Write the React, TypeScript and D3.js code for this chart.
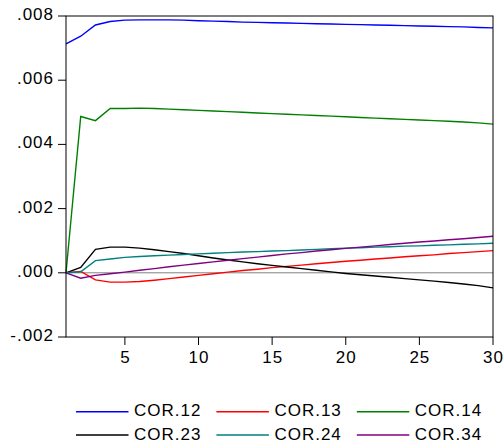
import React from 'react';
import * as d3 from 'd3';

// horizon 1..30, values in thousandths
const steps = d3.range(1, 31);
const cor12 = [7.13, 7.37, 7.72, 7.83, 7.87, 7.88, 7.88, 7.88, 7.87, 7.85, 7.84, 7.83, 7.81, 7.80, 7.79, 7.78, 7.77, 7.76, 7.75, 7.74, 7.73, 7.72, 7.71, 7.70, 7.69, 7.68, 7.67, 7.66, 7.64, 7.63];
const cor13 = [0, 0.04, -0.22, -0.29, -0.29, -0.27, -0.23, -0.18, -0.13, -0.08, -0.03, 0.02, 0.07, 0.11, 0.16, 0.20, 0.24, 0.28, 0.32, 0.36, 0.39, 0.43, 0.46, 0.50, 0.53, 0.56, 0.60, 0.63, 0.66, 0.69];
const cor14 = [0, 4.87, 4.74, 5.12, 5.12, 5.13, 5.12, 5.10, 5.08, 5.06, 5.04, 5.02, 5.00, 4.98, 4.96, 4.94, 4.92, 4.90, 4.88, 4.86, 4.84, 4.82, 4.80, 4.78, 4.76, 4.74, 4.72, 4.70, 4.67, 4.63];
const cor23 = [0, 0.17, 0.73, 0.80, 0.80, 0.77, 0.72, 0.66, 0.60, 0.53, 0.46, 0.40, 0.34, 0.28, 0.23, 0.18, 0.13, 0.08, 0.03, -0.02, -0.06, -0.10, -0.14, -0.18, -0.22, -0.26, -0.30, -0.35, -0.40, -0.47];
const cor24 = [0, 0.03, 0.38, 0.43, 0.48, 0.51, 0.53, 0.55, 0.57, 0.59, 0.61, 0.63, 0.65, 0.66, 0.68, 0.69, 0.71, 0.73, 0.75, 0.77, 0.78, 0.80, 0.81, 0.83, 0.84, 0.86, 0.87, 0.89, 0.90, 0.92];
const cor34 = [0, -0.17, -0.08, -0.03, 0.02, 0.08, 0.13, 0.19, 0.24, 0.29, 0.34, 0.39, 0.44, 0.49, 0.54, 0.59, 0.63, 0.68, 0.72, 0.76, 0.80, 0.84, 0.88, 0.92, 0.96, 0.99, 1.03, 1.06, 1.10, 1.14];

const seriesNames = ['COR.12', 'COR.13', 'COR.14', 'COR.23', 'COR.24', 'COR.34'];
const seriesColors = ['#0000ff', '#ff0000', '#008000', '#000000', '#008080', '#800080'];
const seriesData = [cor12, cor13, cor14, cor23, cor24, cor34];

const yTicks = [-0.002, 0, 0.002, 0.004, 0.006, 0.008];
const xTicks = [5, 10, 15, 20, 25, 30];

const W = 504, H = 445;
const left = 66, right = 493, top = 16, bottom = 337;
const font = '"Liberation Sans", Arial, sans-serif';

export default function App() {
  const x = d3.scaleLinear().domain([1, 30]).range([left, right]);
  const y = d3.scaleLinear().domain([-0.002, 0.008]).range([bottom, top]);
  const line = d3.line<number>()
    .x((d, i) => x(steps[i]))
    .y(d => y(d / 1000));

  // EViews style: .008, -.002
  const fmt = (v: number) => d3.format('.3f')(v).replace('0.', '.').replace('−', '-');

  return (
    <svg width={W} height={H} style={{ position: 'absolute', left: 0, top: 0, background: '#fff' }}>
      <line x1={left} x2={right} y1={y(0)} y2={y(0)} stroke="#808080" strokeWidth={1} />
      {seriesData.map((s, i) => (
        <path key={seriesNames[i]} d={line(s) || ''} fill="none" stroke={seriesColors[i]} strokeWidth={1.4} />
      ))}
      <rect x={left} y={top} width={right - left} height={bottom - top} fill="none" stroke="#000" strokeWidth={1} />
      {yTicks.map(t => (
        <g key={t}>
          <line x1={left - 8} x2={left} y1={y(t)} y2={y(t)} stroke="#000" />
          <text x={54} y={y(t) + 4} textAnchor="end" fontFamily={font} fontSize={17} letterSpacing={1} fill="#000">{fmt(t)}</text>
        </g>
      ))}
      {xTicks.map(t => (
        <g key={t}>
          <line x1={x(t)} x2={x(t)} y1={bottom} y2={bottom + 8} stroke="#000" />
          <text x={x(t) + 0.5} y={362.5} textAnchor="middle" fontFamily={font} fontSize={17} letterSpacing={1} fill="#000">{t}</text>
        </g>
      ))}
      {seriesNames.map((n, i) => {
        const col = i % 3, row = Math.floor(i / 3);
        const lx = 76 + col * 140.4;
        const ly = 411.7 + row * 23.3;
        return (
          <g key={n}>
            <line x1={lx} x2={lx + 52.5} y1={ly} y2={ly} stroke={seriesColors[i]} strokeWidth={1.4} />
            <text x={lx + 58} y={ly + 4.5} fontFamily={font} fontSize={17} letterSpacing={1} fill="#000">{n}</text>
          </g>
        );
      })}
    </svg>
  );
}
